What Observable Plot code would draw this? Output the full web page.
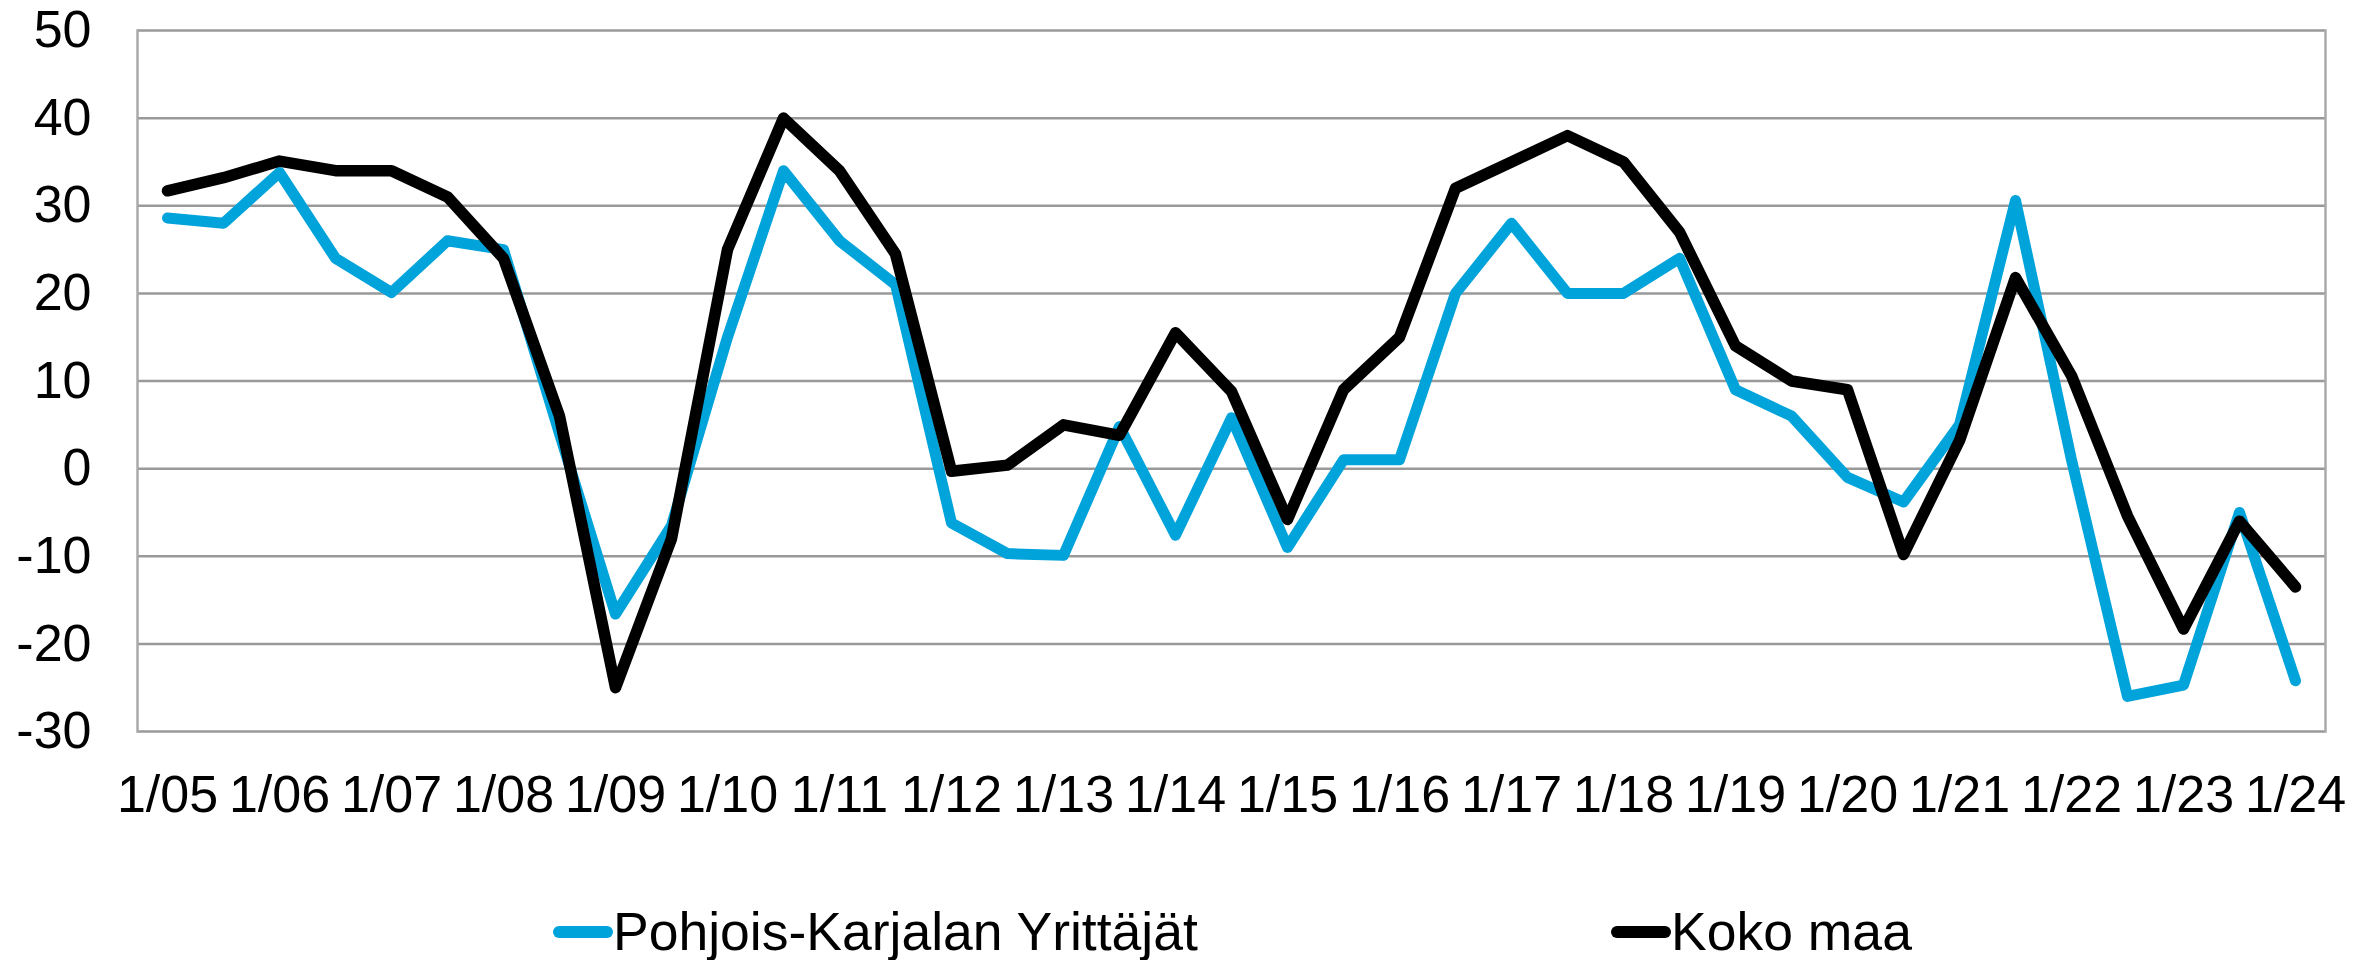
<!DOCTYPE html>
<html>
<head>
<meta charset="utf-8">
<script src="https://cdn.jsdelivr.net/npm/d3@7"></script>
<script src="https://cdn.jsdelivr.net/npm/@observablehq/plot@0.6"></script>
<style>
  html, body { margin: 0; padding: 0; background: #fff; overflow: hidden; }
  body { font-family: "Liberation Sans", Arial, sans-serif; width: 2374px; height: 960px; }
  #chart svg { display: block; max-width: none; }
  #legend { position: relative; width: 2374px; height: 110px; }
  .item { position: absolute; top: 52px; height: 60px; display: flex; align-items: center; font-size: 53.5px; line-height: 60px; color: #000; white-space: nowrap; }
  .sw { width: 60px; height: 12px; border-radius: 6px; }
</style>
</head>
<body>
<div id="chart"></div>
<div id="legend"></div>
<script>
// Half-yearly survey periods
const periods = ["1/05","7/05","1/06","7/06","1/07","7/07","1/08","7/08","1/09","7/09",
                 "1/10","7/10","1/11","7/11","1/12","7/12","1/13","7/13","1/14","7/14",
                 "1/15","7/15","1/16","7/16","1/17","7/17","1/18","7/18","1/19","7/19",
                 "1/20","7/20","1/21","7/21","1/22","7/22","1/23","7/23","1/24"];
const xTickLabels = ["1/05","1/06","1/07","1/08","1/09","1/10","1/11","1/12","1/13","1/14",
                     "1/15","1/16","1/17","1/18","1/19","1/20","1/21","1/22","1/23","1/24"];
const pohjoisKarjala = [28.6, 28.0, 33.8, 24.0, 20.1, 26.0, 25.0, 4.0, -16.6, -6.5,
                        15.0, 34.0, 26.0, 21.0, -6.2, -9.7, -9.9, 4.8, -7.6, 5.8,
                        -9.0, 1.0, 1.0, 20.0, 28.0, 20.0, 20.0, 24.0, 9.0, 6.0,
                        -1.0, -3.8, 5.0, 30.6, 1.0, -26.0, -24.7, -5.0, -24.2];
const kokoMaa = [31.7, 33.2, 35.1, 34.0, 34.0, 31.0, 24.0, 6.0, -25.0, -8.0,
                 25.0, 40.0, 34.0, 24.5, -0.3, 0.4, 5.0, 3.8, 15.5, 8.8,
                 -5.8, 9.0, 15.0, 32.0, 35.0, 38.0, 35.0, 27.0, 14.0, 10.0,
                 9.0, -9.8, 3.2, 21.8, 10.6, -5.4, -18.3, -6.0, -13.5];
const seriesNames = ["Pohjois-Karjalan Yrittäjät", "Koko maa"];
const seriesColors = ["#00a3da", "#000000"];
const yTicks = [-30, -20, -10, 0, 10, 20, 30, 40, 50];

const pkData = periods.map((p, i) => ({period: p, value: pohjoisKarjala[i]}));
const kmData = periods.map((p, i) => ({period: p, value: kokoMaa[i]}));

const chart = Plot.plot({
  width: 2374,
  height: 850,
  marginLeft: 137,
  marginRight: 49,
  marginTop: 30,
  marginBottom: 119,
  style: {fontFamily: "'Liberation Sans', Arial, sans-serif", fontSize: "52px", color: "#000", background: "#fff"},
  x: {type: "point", domain: periods, padding: 0.5},
  y: {domain: [-30, 50]},
  marks: [
    Plot.ruleY(yTicks, {stroke: "#999", strokeWidth: 2.5}),
    Plot.frame({anchor: "left", stroke: "#aaa", strokeWidth: 2.5}),
    Plot.frame({anchor: "right", stroke: "#aaa", strokeWidth: 2.5}),
    Plot.axisY(yTicks, {tickSize: 0, tickPadding: 46, fontSize: 52, label: null, tickFormat: d => String(d)}),
    Plot.axisX(xTickLabels, {tickSize: 0, tickPadding: 44, fontSize: 52, label: null}),
    Plot.line(pkData, {x: "period", y: "value", stroke: seriesColors[0], strokeWidth: 11, strokeLinejoin: "round", strokeLinecap: "round"}),
    Plot.line(kmData, {x: "period", y: "value", stroke: seriesColors[1], strokeWidth: 11.5, strokeLinejoin: "round", strokeLinecap: "round"})
  ]
});
document.getElementById("chart").appendChild(chart);

const legend = document.getElementById("legend");
const legendLeft = [553, 1611];
seriesNames.forEach((name, i) => {
  const item = document.createElement("div");
  item.className = "item";
  item.style.left = legendLeft[i] + "px";
  const sw = document.createElement("div");
  sw.className = "sw";
  sw.style.background = seriesColors[i];
  const label = document.createElement("span");
  label.textContent = name;
  item.appendChild(sw);
  item.appendChild(label);
  legend.appendChild(item);
});
</script>
</body>
</html>
